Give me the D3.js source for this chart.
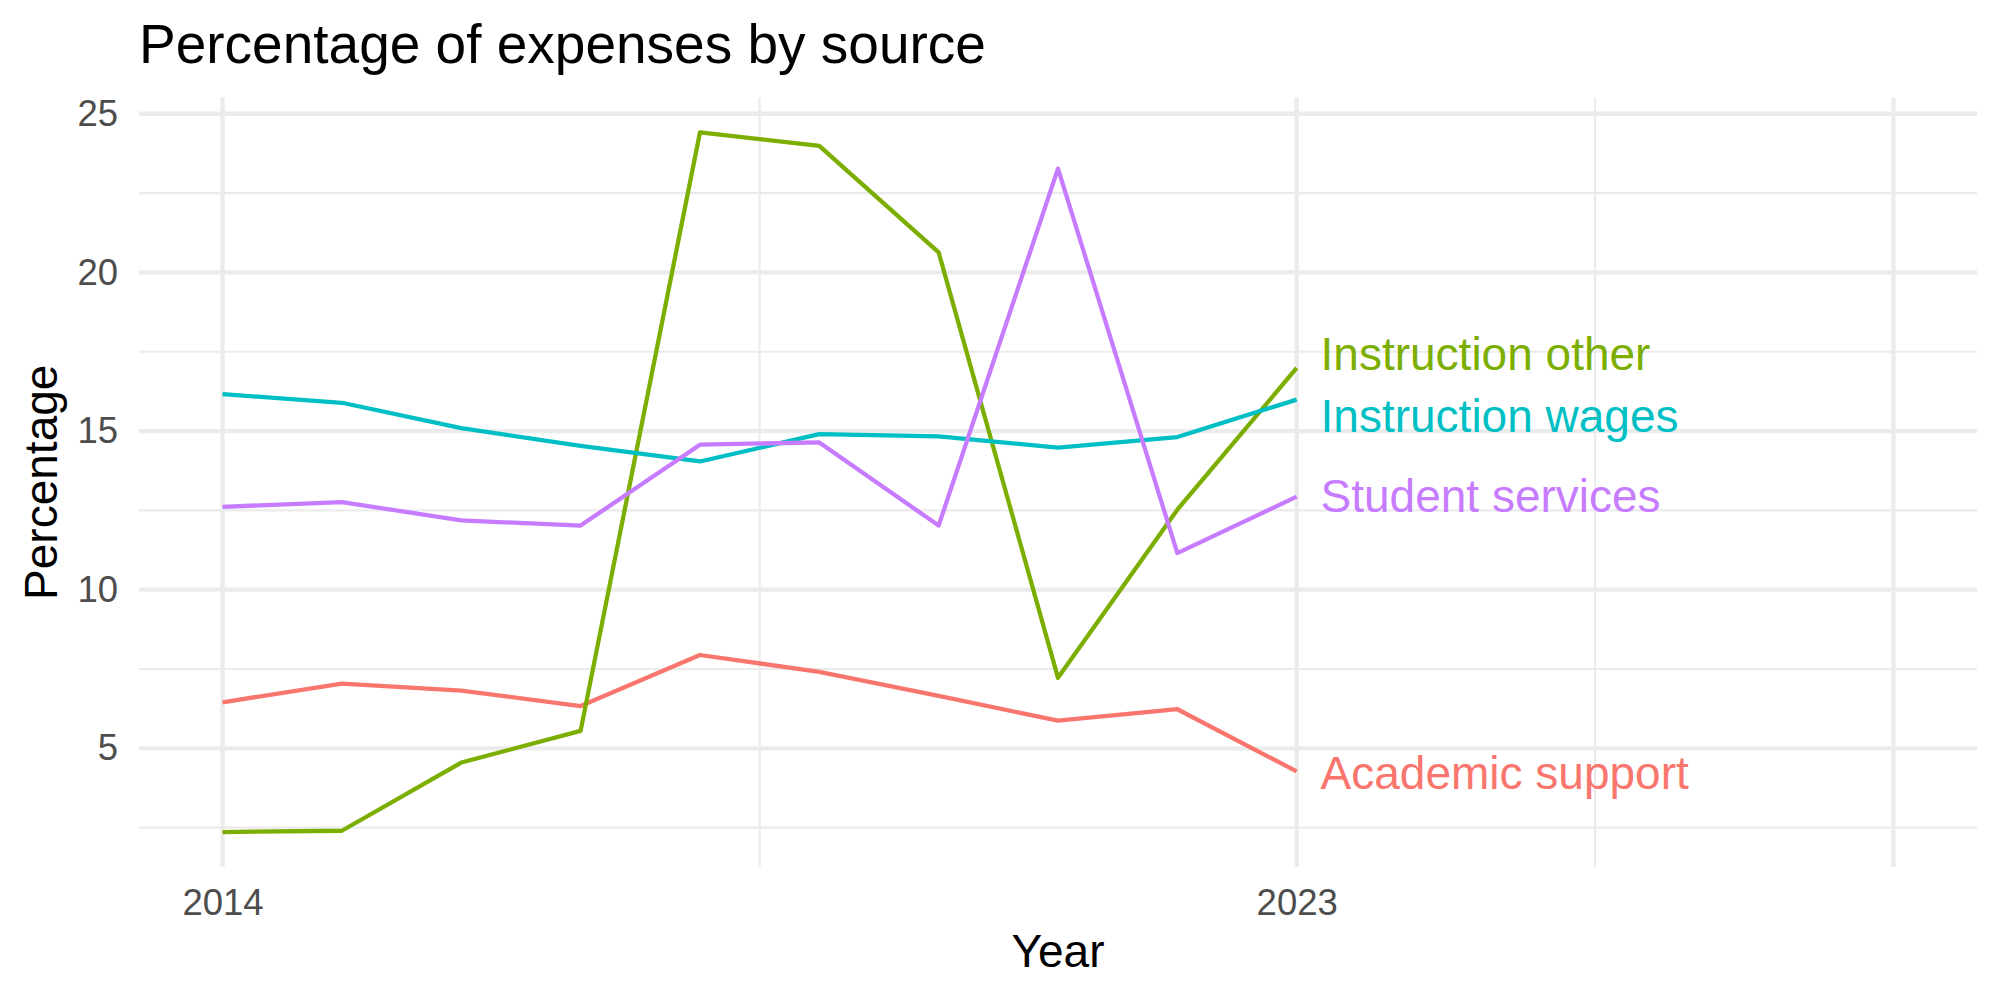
<!DOCTYPE html>
<html>
<head>
<meta charset="utf-8">
<script src="https://cdn.jsdelivr.net/npm/d3@7"></script>
<style>
  body { margin: 0; background: #fff; }
  text { font-family: "Liberation Sans", Arial, Helvetica, sans-serif; }
</style>
</head>
<body>
<div id="chart"></div>
<script>
// data
const years = [2014, 2015, 2016, 2017, 2018, 2019, 2020, 2021, 2022, 2023];
const seriesNames = ["Academic support", "Instruction other", "Instruction wages", "Student services"];
const academicSupport = [6.45, 7.04, 6.82, 6.33, 7.94, 7.41, 6.65, 5.87, 6.23, 4.27];
const instructionOther = [2.36, 2.40, 4.55, 5.55, 24.41, 23.99, 20.63, 7.22, 12.52, 16.99];
const instructionWages = [16.16, 15.89, 15.09, 14.53, 14.04, 14.90, 14.83, 14.48, 14.81, 15.99];
const studentServices = [12.61, 12.76, 12.18, 12.02, 14.57, 14.64, 12.02, 23.27, 11.15, 12.93];
// end labels (repelled a bit where they would collide)
const labelValues = [4.25, 17.45, 15.49, 12.96];
const labelNudge = 0.2;

const xLimits = [2014, 2028];
const xBreaks = [2014, 2023, 2028];
const xTickLabels = ["2014", "2023", ""];
const yBreaks = [5, 10, 15, 20, 25];
const yTickLabels = ["5", "10", "15", "20", "25"];

const colors = ["#F8766D", "#7CAE00", "#00BFC4", "#C77CFF"];

const width = 2000, height = 1000;
const margin = {left: 139, right: 23, top: 97.5, bottom: 133};

const svg = d3.select("#chart").append("svg")
    .attr("width", width)
    .attr("height", height);

const allSeries = [academicSupport, instructionOther, instructionWages, studentServices];
const series = seriesNames.map((name, i) => ({
    name,
    color: colors[i],
    label: labelValues[i],
    values: years.map((yr, j) => ({year: yr, value: allSeries[i][j]}))
}));

// ggplot style 5% expansion
const expand = (lo, hi) => { const d = (hi - lo) * 0.05; return [lo - d, hi + d]; };
const flat = allSeries.flat();
const x = d3.scaleLinear()
    .domain(expand(xLimits[0], xLimits[1]))
    .range([margin.left, width - margin.right]);
const y = d3.scaleLinear()
    .domain(expand(d3.min(flat), d3.max(flat)))
    .range([height - margin.bottom, margin.top]);

const grid = svg.append("g");
const xMinor = d3.pairs(xBreaks).map(p => (p[0] + p[1]) / 2);
const yMinor = [2.5, 7.5, 12.5, 17.5, 22.5];

grid.selectAll(".ymin").data(yMinor).enter().append("line")
    .attr("x1", x.range()[0]).attr("x2", x.range()[1])
    .attr("y1", d => y(d)).attr("y2", d => y(d))
    .attr("stroke", "#EBEBEB").attr("stroke-width", 2.13);
grid.selectAll(".xmin").data(xMinor).enter().append("line")
    .attr("y1", y.range()[0]).attr("y2", y.range()[1])
    .attr("x1", d => x(d)).attr("x2", d => x(d))
    .attr("stroke", "#EBEBEB").attr("stroke-width", 2.13);
grid.selectAll(".ymaj").data(yBreaks).enter().append("line")
    .attr("x1", x.range()[0]).attr("x2", x.range()[1])
    .attr("y1", d => y(d)).attr("y2", d => y(d))
    .attr("stroke", "#EBEBEB").attr("stroke-width", 4.27);
grid.selectAll(".xmaj").data(xBreaks).enter().append("line")
    .attr("y1", y.range()[0]).attr("y2", y.range()[1])
    .attr("x1", d => x(d)).attr("x2", d => x(d))
    .attr("stroke", "#EBEBEB").attr("stroke-width", 4.27);

// axes, text only (theme_minimal has no lines or ticks)
const xAxis = svg.append("g")
    .attr("transform", `translate(0,${height - margin.bottom})`)
    .call(d3.axisBottom(x).tickValues(xBreaks).tickSize(0).tickPadding(22)
        .tickFormat((d, i) => xTickLabels[i]));
const yAxis = svg.append("g")
    .attr("transform", `translate(${margin.left},0)`)
    .call(d3.axisLeft(y).tickValues(yBreaks).tickSize(0).tickPadding(21)
        .tickFormat((d, i) => yTickLabels[i]));
[xAxis, yAxis].forEach(a => {
    a.select(".domain").remove();
    a.selectAll("text")
        .attr("font-family", '"Liberation Sans", Arial, sans-serif')
        .attr("font-size", 36.5)
        .attr("fill", "#4D4D4D");
});

const line = d3.line()
    .x(d => x(d.year))
    .y(d => y(d.value));

svg.append("g").selectAll("path")
    .data(series).enter().append("path")
    .attr("d", d => line(d.values))
    .attr("fill", "none")
    .attr("stroke", d => d.color)
    .attr("stroke-width", 4.27)
    .attr("stroke-linejoin", "round");

const lastYear = years[years.length - 1];
svg.append("g").selectAll("text")
    .data(series).enter().append("text")
    .attr("x", x(lastYear + labelNudge))
    .attr("y", d => y(d.label))
    .attr("dy", "0.36em")
    .attr("font-size", 46)
    .attr("fill", d => d.color)
    .text(d => d.name);

// titles
svg.append("text")
    .attr("x", margin.left)
    .attr("y", 63)
    .attr("font-size", 55)
    .attr("fill", "#000")
    .text("Percentage of expenses by source");

svg.append("text")
    .attr("x", (x.range()[0] + x.range()[1]) / 2)
    .attr("y", 967)
    .attr("text-anchor", "middle")
    .attr("font-size", 46)
    .attr("fill", "#000")
    .text("Year");

svg.append("text")
    .attr("transform", `translate(57,${(y.range()[0] + y.range()[1]) / 2}) rotate(-90)`)
    .attr("text-anchor", "middle")
    .attr("font-size", 46)
    .attr("fill", "#000")
    .text("Percentage");
</script>
</body>
</html>
